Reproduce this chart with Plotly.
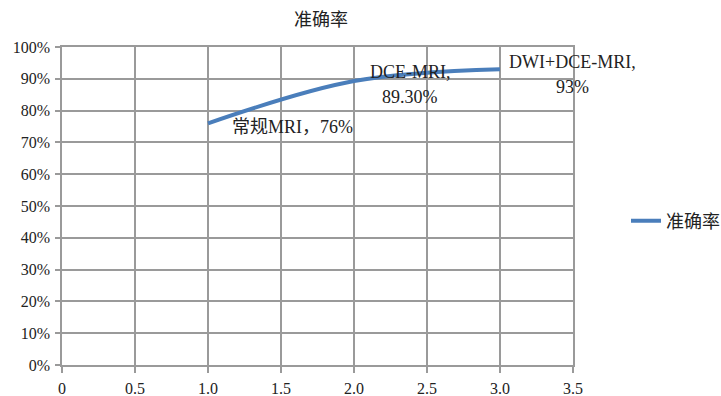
import plotly.graph_objects as go

x_vals = [1.0, 2.0, 3.0]
y_vals = [0.76, 0.893, 0.93]
labels = ["常规MRI，76%", "DCE-MRI,<br>89.30%", "DWI+DCE-MRI,<br>93%"]
series_name = "准确率"
title_text = "准确率"
x_ticks = [0, 0.5, 1.0, 1.5, 2.0, 2.5, 3.0, 3.5]
x_ticktext = ["0", "0.5", "1.0", "1.5", "2.0", "2.5", "3.0", "3.5"]
y_ticks = [i / 10 for i in range(11)]
y_ticktext = [f"{i*10}%" for i in range(11)]

FONT = "Liberation Serif, Noto Sans CJK SC, serif"
TICKFONT = "Liberation Serif"
CJK = "Noto Sans CJK SC, Liberation Serif"
LINE_COLOR = "#4A7EBB"
GRID = "#9a9a9a"
TXT = "#222222"

fig = go.Figure()
fig.add_trace(go.Scatter(
    x=x_vals, y=y_vals, mode="lines", name=series_name,
    line=dict(color=LINE_COLOR, width=4, shape="spline", smoothing=1.0),
))

# label placement (pixel offsets of the label block centre from its point)
shifts = [(22, -4, "left"), (56, -3, "center"), (72, -5, "center")]
LINE_GAP = 25
for xv, yv, t, (dx, dy, xa) in zip(x_vals, y_vals, labels, shifts):
    parts = t.split("<br>")
    n = len(parts)
    for i, p in enumerate(parts):
        off = (n - 1) / 2 * LINE_GAP - i * LINE_GAP
        fig.add_annotation(x=xv, y=yv, text=p, showarrow=False, xref="x", yref="y",
                           xshift=dx, yshift=dy + off, xanchor=xa, yanchor="middle",
                           font=dict(family=FONT, size=18, color=TXT))

fig.update_layout(
    width=721, height=396,
    margin=dict(l=62, r=148, t=47, b=31),
    paper_bgcolor="white", plot_bgcolor="white",
    font=dict(family=FONT, size=16, color=TXT),
    title=dict(text=title_text, x=321 / 721, xanchor="center", y=1 - 20 / 396, yanchor="middle",
               font=dict(family=CJK, size=18, color=TXT)),
    showlegend=True,
    legend=dict(x=626 / 721, xref="container", xanchor="left", y=1 - 221 / 396, yref="container",
                yanchor="middle", font=dict(family=CJK, size=18, color=TXT),
                bgcolor="rgba(0,0,0,0)"),
)
axis_common = dict(showgrid=True, gridcolor=GRID, gridwidth=1.5,
                   showline=True, linecolor=GRID, linewidth=1.5, mirror=True,
                   ticks="outside", tickcolor=GRID, tickwidth=1.5, zeroline=False,
                   automargin=False,
                   tickfont=dict(family=TICKFONT, size=16, color=TXT))
fig.update_xaxes(range=[0, 3.5], tickvals=x_ticks, ticktext=x_ticktext, ticklen=6,
                 ticklabelstandoff=2, **axis_common)
fig.update_yaxes(range=[0, 1.0], tickvals=y_ticks, ticktext=y_ticktext, ticklen=5,
                 ticklabelstandoff=2, **axis_common)

fig.write_html("out.html")
